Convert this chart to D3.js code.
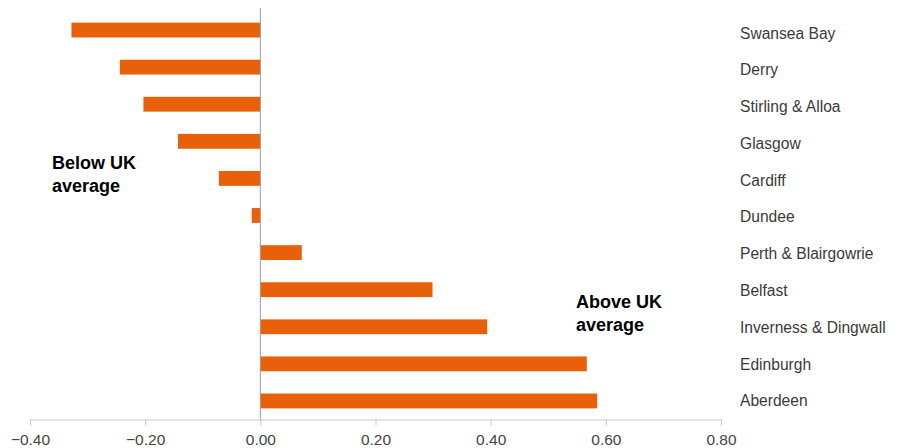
<!DOCTYPE html>
<html>
<head>
<meta charset="utf-8">
<script src="https://cdn.jsdelivr.net/npm/d3@7"></script>
<style>
  html, body { margin: 0; padding: 0; background: #fff; }
  svg { display: block; }
</style>
</head>
<body>
<svg id="chart" width="901" height="448"></svg>
<script>
// Difference from UK average, by city region
const regions = ["Swansea Bay", "Derry", "Stirling & Alloa", "Glasgow", "Cardiff", "Dundee",
  "Perth & Blairgowrie", "Belfast", "Inverness & Dingwall", "Edinburgh", "Aberdeen"];
const values = [-0.328, -0.244, -0.203, -0.143, -0.072, -0.015, 0.072, 0.299, 0.394, 0.567, 0.585];
const tickValues = [-0.4, -0.2, 0, 0.2, 0.4, 0.6, 0.8];

const svg = d3.select("#chart");
const font = "'Liberation Sans', Arial, Helvetica, sans-serif";

const x = d3.scaleLinear().domain([-0.4, 0.8]).range([30, 721]);
const y = d3.scaleBand().domain(regions).range([11.5, 419.5]).paddingInner(0.6).paddingOuter(0.3);

// Bars
svg.append("g").selectAll("rect")
  .data(regions)
  .join("rect")
  .attr("x", (d, i) => x(Math.min(0, values[i])))
  .attr("width", (d, i) => Math.abs(x(values[i]) - x(0)))
  .attr("y", d => y(d))
  .attr("height", y.bandwidth())
  .attr("fill", "#e8600a");

// Zero reference line
svg.append("line")
  .attr("x1", x(0)).attr("x2", x(0))
  .attr("y1", 8).attr("y2", 419.5)
  .attr("stroke", "#9a9a9a").attr("stroke-width", 1);

// Bottom axis
const xAxis = d3.axisBottom(x)
  .tickValues(tickValues)
  .tickFormat(d3.format(".2f"))
  .tickSize(6)
  .tickSizeOuter(0)
  .tickPadding(8);

const gx = svg.append("g")
  .attr("transform", "translate(0,419.5)")
  .call(xAxis);
gx.select(".domain").attr("stroke", "#c8c8c8");
gx.selectAll(".tick line").attr("stroke", "#c8c8c8");
gx.selectAll(".tick text")
  .attr("font-family", font)
  .attr("font-size", 15.5)
  .attr("fill", "#444");

// Region labels
svg.append("g").selectAll("text")
  .data(regions)
  .join("text")
  .attr("x", 740)
  .attr("y", (d, i) => y(d) + y.bandwidth() / 2 + 3 - i * 0.3)
  .attr("dy", "0.35em")
  .attr("font-family", font)
  .attr("font-size", 15.6)
  .attr("fill", "#3a3a3a")
  .text(d => d);

// Annotations
const notes = [
  { lines: ["Below UK", "average"], x: 52, y: 169 },
  { lines: ["Above UK", "average"], x: 576, y: 308 }
];
notes.forEach(n => {
  const t = svg.append("text")
    .attr("x", n.x).attr("y", n.y)
    .attr("font-family", font)
    .attr("font-size", 18)
    .attr("font-weight", "bold")
    .attr("fill", "#000");
  n.lines.forEach((l, i) => {
    t.append("tspan").attr("x", n.x).attr("dy", i === 0 ? 0 : 22.5).text(l);
  });
});
</script>
</body>
</html>
